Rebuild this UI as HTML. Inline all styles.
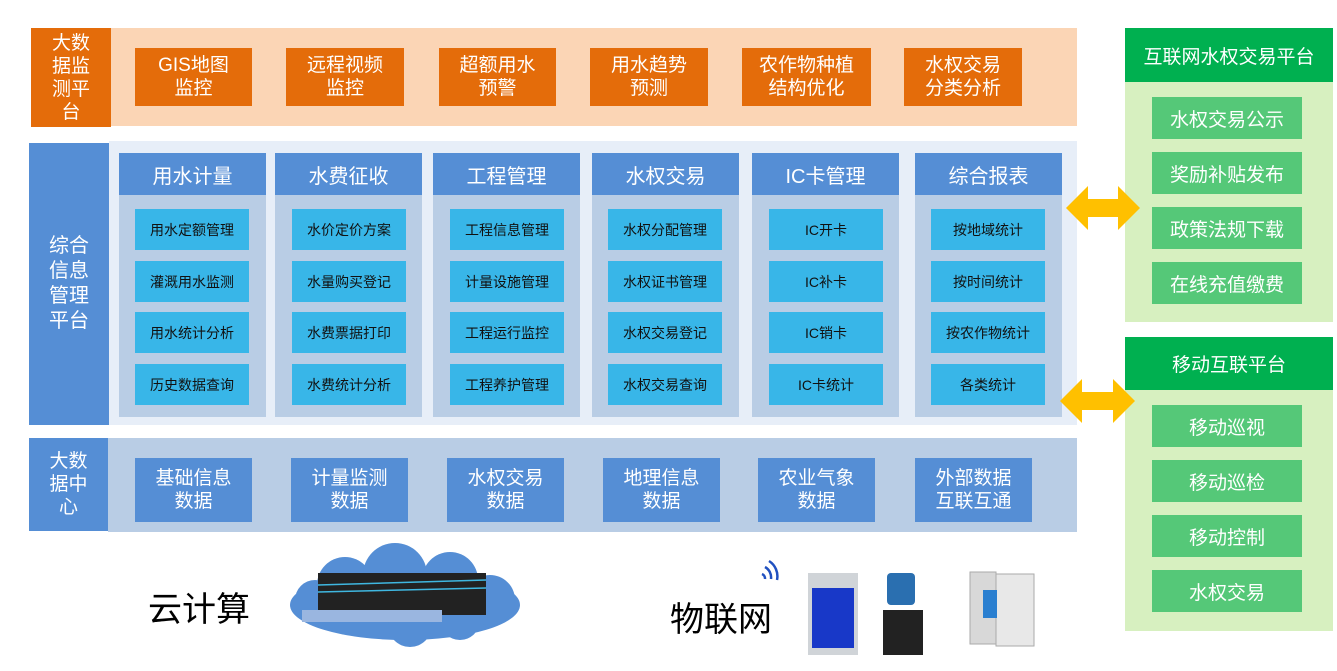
<!DOCTYPE html>
<html><head><meta charset="utf-8"><style>
body{margin:0;width:1337px;height:671px;background:#fff;position:relative;overflow:hidden;font-family:"Liberation Sans","Noto Sans CJK SC",sans-serif}
div{position:absolute;box-sizing:border-box}
.c{display:flex;align-items:center;justify-content:center;text-align:center}
.lab{background:#558ed5;color:#fff;font-size:19px;line-height:23px}
.or{background:#e46c0a;color:#fff;font-size:19px;line-height:23px}
.hd{background:#558ed5;color:#fff;font-size:20px;top:153px;height:42px;width:147px}
.col{background:#b9cde5;top:195px;height:222px;width:147px}
.it{background:#38b6e8;color:#111;font-size:14px;width:114px;height:41px}
.bb{background:#558ed5;color:#fff;font-size:19px;line-height:23px;top:458px;height:64px;width:117px}
.gp{background:#d7f0c0;width:208px}
.gh{background:#00b050;color:#fff;font-size:19px;height:54px;width:208px}
.gi{background:#55c878;color:#fff;font-size:19px;left:1152px;width:150px;height:42px}
</style></head><body>
<div style="left:111px;top:28px;width:966px;height:98px;background:#fbd5b5"></div>
<div class="lab c" style="left:31px;top:28px;width:80px;height:99px;background:#e46c0a">大数<br>据监<br>测平<br>台</div>
<div class="or c" style="left:135px;top:48px;width:117px;height:58px">GIS地图<br>监控</div>
<div class="or c" style="left:286px;top:48px;width:118px;height:58px">远程视频<br>监控</div>
<div class="or c" style="left:439px;top:48px;width:117px;height:58px">超额用水<br>预警</div>
<div class="or c" style="left:590px;top:48px;width:118px;height:58px">用水趋势<br>预测</div>
<div class="or c" style="left:742px;top:48px;width:129px;height:58px">农作物种植<br>结构优化</div>
<div class="or c" style="left:904px;top:48px;width:118px;height:58px">水权交易<br>分类分析</div>
<div style="left:109px;top:141px;width:968px;height:284px;background:#e7eef8"></div>
<div class="lab c" style="left:29px;top:143px;width:80px;height:282px;font-size:20px;line-height:25px">综合<br>信息<br>管理<br>平台</div>
<div class="hd c" style="left:119px">用水计量</div><div class="col" style="left:119px"></div>
<div class="hd c" style="left:275px">水费征收</div><div class="col" style="left:275px"></div>
<div class="hd c" style="left:433px">工程管理</div><div class="col" style="left:433px"></div>
<div class="hd c" style="left:592px">水权交易</div><div class="col" style="left:592px"></div>
<div class="hd c" style="left:752px">IC卡管理</div><div class="col" style="left:752px"></div>
<div class="hd c" style="left:915px">综合报表</div><div class="col" style="left:915px"></div>
<div class="it c" style="left:135px;top:209px">用水定额管理</div>
<div class="it c" style="left:135px;top:261px">灌溉用水监测</div>
<div class="it c" style="left:135px;top:312px">用水统计分析</div>
<div class="it c" style="left:135px;top:364px">历史数据查询</div>
<div class="it c" style="left:292px;top:209px">水价定价方案</div>
<div class="it c" style="left:292px;top:261px">水量购买登记</div>
<div class="it c" style="left:292px;top:312px">水费票据打印</div>
<div class="it c" style="left:292px;top:364px">水费统计分析</div>
<div class="it c" style="left:450px;top:209px">工程信息管理</div>
<div class="it c" style="left:450px;top:261px">计量设施管理</div>
<div class="it c" style="left:450px;top:312px">工程运行监控</div>
<div class="it c" style="left:450px;top:364px">工程养护管理</div>
<div class="it c" style="left:608px;top:209px">水权分配管理</div>
<div class="it c" style="left:608px;top:261px">水权证书管理</div>
<div class="it c" style="left:608px;top:312px">水权交易登记</div>
<div class="it c" style="left:608px;top:364px">水权交易查询</div>
<div class="it c" style="left:769px;top:209px">IC开卡</div>
<div class="it c" style="left:769px;top:261px">IC补卡</div>
<div class="it c" style="left:769px;top:312px">IC销卡</div>
<div class="it c" style="left:769px;top:364px">IC卡统计</div>
<div class="it c" style="left:931px;top:209px">按地域统计</div>
<div class="it c" style="left:931px;top:261px">按时间统计</div>
<div class="it c" style="left:931px;top:312px">按农作物统计</div>
<div class="it c" style="left:931px;top:364px">各类统计</div>
<div style="left:108px;top:438px;width:969px;height:94px;background:#b9cde5"></div>
<div class="lab c" style="left:29px;top:438px;width:79px;height:93px">大数<br>据中<br>心</div>
<div class="bb c" style="left:135px">基础信息<br>数据</div>
<div class="bb c" style="left:291px">计量监测<br>数据</div>
<div class="bb c" style="left:447px">水权交易<br>数据</div>
<div class="bb c" style="left:603px">地理信息<br>数据</div>
<div class="bb c" style="left:758px">农业气象<br>数据</div>
<div class="bb c" style="left:915px">外部数据<br>互联互通</div>
<div class="gp" style="left:1125px;top:28px;height:294px"></div>
<div class="gh c" style="left:1125px;top:28px">互联网水权交易平台</div>
<div class="gi c" style="top:97px">水权交易公示</div>
<div class="gi c" style="top:152px">奖励补贴发布</div>
<div class="gi c" style="top:207px">政策法规下载</div>
<div class="gi c" style="top:262px">在线充值缴费</div>
<div class="gp" style="left:1125px;top:337px;height:294px"></div>
<div class="gh c" style="left:1125px;top:337px;height:53px">移动互联平台</div>
<div class="gi c" style="top:405px">移动巡视</div>
<div class="gi c" style="top:460px">移动巡检</div>
<div class="gi c" style="top:515px">移动控制</div>
<div class="gi c" style="top:570px">水权交易</div>
<svg style="position:absolute;left:0;top:0" width="1337" height="671">
<polygon points="1066,208 1088,186 1088,199 1118,199 1118,186 1140,208 1118,230 1118,217 1088,217 1088,230" fill="#ffc000"/>
<polygon points="1060,401 1082,379 1082,392 1113,392 1113,379 1135,401 1113,423 1113,410 1082,410 1082,423" fill="#ffc000"/>
<g fill="#558ed5">
<ellipse cx="405" cy="605" rx="115" ry="35"/>
<circle cx="345" cy="585" r="28"/><circle cx="395" cy="575" r="32"/><circle cx="450" cy="580" r="28"/><circle cx="490" cy="600" r="25"/>
<circle cx="315" cy="600" r="20"/><circle cx="410" cy="625" r="22"/><circle cx="460" cy="620" r="20"/>
</g>
<rect x="318" y="573" width="168" height="42" fill="#222"/>
<g stroke="#3fb7e0" stroke-width="1.5"><line x1="318" y1="585" x2="486" y2="580"/><line x1="318" y1="592" x2="486" y2="588"/></g>
<rect x="302" y="610" width="140" height="12" fill="#9ab6e0"/>
<path d="M762,574 a5,5 0 0 1 3,5 M765,567 a12,12 0 0 1 6,12 M769,561 a18,18 0 0 1 8,19" stroke="#2050c0" stroke-width="2.5" fill="none"/>
<rect x="808" y="573" width="50" height="82" fill="#d0d4d8"/>
<rect x="812" y="588" width="42" height="60" fill="#1838c8"/>
<rect x="887" y="573" width="28" height="32" rx="4" fill="#2a6fb0"/>
<rect x="883" y="610" width="40" height="45" fill="#222"/>
<rect x="970" y="572" width="26" height="72" fill="#d8d8d8" stroke="#aaa"/>
<rect x="996" y="574" width="38" height="72" fill="#e8e8e8" stroke="#aaa"/>
<rect x="983" y="590" width="14" height="28" fill="#2a7fd0"/>
</svg>
<div style="left:148px;top:582px;font-size:34px;color:#000">云计算</div>
<div style="left:670px;top:592px;font-size:34px;color:#000">物联网</div>
</body></html>
